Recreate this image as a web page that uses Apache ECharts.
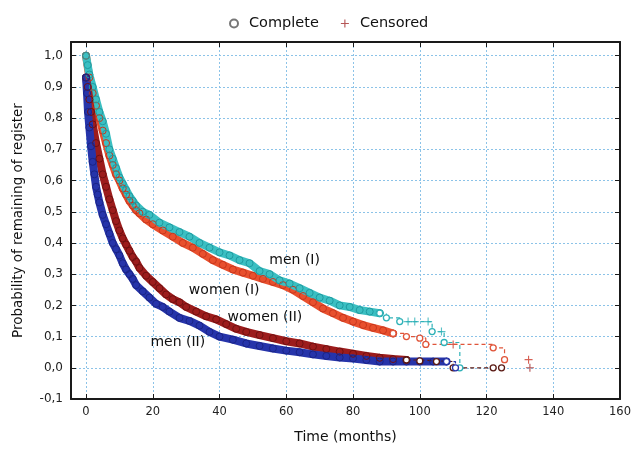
<!DOCTYPE html>
<html>
<head>
<meta charset="utf-8">
<script src="https://cdn.jsdelivr.net/npm/echarts@6/dist/echarts.min.js"></script>
<style>
  html, body { margin: 0; padding: 0; background: #fff; }
  #chart { width: 634px; height: 452px; }
</style>
</head>
<body>
<div id="chart"></div>
<script>
  // tick labels
  var xTicks = [0, 20, 40, 60, 80, 100, 120, 140, 160];
  var yTicks = [-0.1, 0, 0.1, 0.2, 0.3, 0.4, 0.5, 0.6, 0.7, 0.8, 0.9, 1.0];

  // men (I) - dense part, tail, censored
  var menI = [[0, 1.0], [0.5, 0.97], [1, 0.94], [2, 0.90], [3, 0.86], [4, 0.82], [5, 0.79], [6, 0.75], [7, 0.70],
    [8, 0.67], [9, 0.64], [10, 0.61], [11, 0.59], [12, 0.57], [13, 0.55], [14, 0.535], [15, 0.52], [17, 0.50],
    [19, 0.49], [22, 0.465], [25, 0.45], [28, 0.435], [31, 0.42], [34, 0.40], [37, 0.385], [40, 0.37], [43, 0.36],
    [46, 0.345], [49, 0.335], [52, 0.31], [55, 0.30], [58, 0.28], [61, 0.27], [64, 0.255], [67, 0.24], [70, 0.225],
    [73, 0.215], [76, 0.20], [79, 0.195], [82, 0.185], [85, 0.18], [88, 0.175]];
  var menITail = [[88, 0.175], [90, 0.16], [94, 0.148], [103.7, 0.116], [107.3, 0.081], [112, 0.0]];
  var menICens = [[96.5, 0.148], [98.5, 0.148], [102.5, 0.148], [106.5, 0.116]];

  // women (I)
  var womenI = [[0, 1.0], [1, 0.93], [2, 0.88], [3, 0.84], [4, 0.80], [5, 0.76], [6, 0.72], [7, 0.68], [8, 0.65],
    [9, 0.62], [10, 0.60], [11, 0.575], [12, 0.555], [13, 0.535], [14, 0.52], [15, 0.505], [16, 0.495], [18, 0.475],
    [20, 0.46], [23, 0.44], [26, 0.42], [29, 0.40], [32, 0.385], [35, 0.365], [38, 0.345], [41, 0.33], [44, 0.315],
    [47, 0.305], [50, 0.295], [53, 0.285], [56, 0.275], [59, 0.265], [62, 0.25], [65, 0.23], [68, 0.21], [71, 0.19],
    [74, 0.175], [77, 0.16], [80, 0.148], [83, 0.137], [86, 0.128], [89, 0.12], [92, 0.11]];
  var womenITail = [[92, 0.11], [96, 0.10], [100, 0.095], [101.8, 0.075], [122, 0.064], [125.4, 0.026]];
  var womenICens = [[110, 0.075], [132.6, 0.026]];

  // women (II)
  var womenII = [[0, 0.93], [0.5, 0.90], [1, 0.86], [1.5, 0.82], [2, 0.78], [3, 0.72], [4, 0.67], [5, 0.62], [6, 0.58],
    [7, 0.54], [8, 0.505], [9, 0.47], [10, 0.44], [11, 0.415], [12, 0.395], [13, 0.375], [14, 0.355], [15, 0.34],
    [16, 0.32], [18, 0.295], [20, 0.275], [22, 0.255], [24, 0.235], [26, 0.22], [28, 0.21], [30, 0.195], [33, 0.18],
    [36, 0.165], [39, 0.155], [42, 0.14], [45, 0.125], [48, 0.115], [52, 0.105], [56, 0.095], [60, 0.085], [64, 0.078],
    [68, 0.068], [72, 0.06], [76, 0.052], [80, 0.045], [84, 0.038], [88, 0.032], [92, 0.028], [96, 0.025]];
  var womenIITail = [[96, 0.025], [100, 0.022], [105, 0.02], [110, 0.0], [122, 0.0], [124.5, 0.0]];
  var womenIICens = [[133, 0.0]];

  // men (II)
  var menII = [[0, 0.93], [0.3, 0.88], [0.6, 0.82], [1, 0.77], [1.5, 0.71], [2, 0.66], [2.5, 0.62], [3, 0.58],
    [3.5, 0.555], [4, 0.53], [5, 0.49], [6, 0.46], [7, 0.43], [8, 0.40], [9, 0.38], [10, 0.36], [11, 0.335],
    [12, 0.315], [13, 0.30], [14, 0.285], [15, 0.265], [17, 0.245], [19, 0.225], [21, 0.205], [23, 0.195],
    [25, 0.18], [28, 0.16], [31, 0.15], [34, 0.135], [37, 0.115], [40, 0.10], [44, 0.09], [48, 0.078], [52, 0.07],
    [56, 0.062], [60, 0.055], [64, 0.05], [68, 0.043], [72, 0.038], [76, 0.033], [80, 0.03], [84, 0.025],
    [88, 0.02], [92, 0.02], [96, 0.02], [100, 0.02], [104, 0.02], [108, 0.02]];
  var menIITail = [[108, 0.02], [110.7, 0.0]];

  // curve labels (data coords)
  var curveNames = ['men (I)', 'women (I)', 'women (II)', 'men (II)'];
  var curveLabelAt = [[62.5, 0.343], [41.4, 0.247], [53.6, 0.163], [27.5, 0.083]];

  var plusIcon = 'path://M4.3,0H5.7V4.3H10V5.7H5.7V10H4.3V5.7H0V4.3H4.3Z';
  var font = 'DejaVu Sans';

  var chart = echarts.init(document.getElementById('chart'));

  // dense event region drawn as a thick band of markers
  function band(data, color, edge) {
    return {
      type: 'line', data: data, silent: true,
      lineStyle: { color: color, width: 8, cap: 'round', join: 'round' },
      symbol: 'circle', symbolSize: 7,
      itemStyle: { color: 'rgba(255,255,255,0)', borderColor: edge, borderWidth: 1 }
    };
  }
  function tail(data, color) {
    return {
      type: 'line', data: data, step: 'end', silent: true,
      lineStyle: { color: color, width: 1.2, type: [4, 3] },
      symbol: 'circle', symbolSize: 6,
      itemStyle: { color: '#fff', borderColor: color, borderWidth: 1.3 }
    };
  }
  function cens(data, color) {
    return {
      type: 'scatter', data: data, silent: true,
      symbol: plusIcon, symbolSize: 8,
      itemStyle: { color: color }
    };
  }

  var frame = { show: true, onZero: false, lineStyle: { color: '#1a1a1a', width: 2 } };
  var grid = { show: true, lineStyle: { color: '#8cc3e8', type: [2, 2], width: 1 } };

  var option = {
    animation: false,
    backgroundColor: '#fff',
    textStyle: { fontFamily: font },
    legend: {
      top: 11, left: 224,
      itemWidth: 8, itemHeight: 8, itemGap: 22,
      textStyle: { fontSize: 14.5, color: '#111', padding: [0, 0, 0, 6] },
      data: [
        { name: 'Complete', icon: 'emptyCircle' },
        { name: 'Censored', icon: plusIcon }
      ]
    },
    grid: { left: 71, right: 7, top: 42, bottom: 53 },
    xAxis: [{
      type: 'value', min: -4.5, max: 160, position: 'bottom',
      axisLine: frame,
      axisTick: { show: true, inside: true, length: 5, customValues: xTicks, lineStyle: { color: '#1a1a1a' } },
      axisLabel: { customValues: xTicks, fontSize: 11.5, color: '#222', margin: 7 },
      splitLine: grid,
      name: 'Time (months)', nameLocation: 'middle', nameGap: 31,
      nameTextStyle: { fontSize: 14, color: '#111' }
    }, {
      type: 'value', min: -4.5, max: 160, position: 'top',
      axisLine: frame,
      axisTick: { show: true, inside: true, length: 5, customValues: xTicks, lineStyle: { color: '#1a1a1a' } },
      axisLabel: { show: false },
      splitLine: { show: false }
    }],
    yAxis: [{
      type: 'value', min: -0.1, max: 1.044, position: 'left',
      axisLine: frame,
      axisTick: { show: true, inside: true, length: 5, customValues: yTicks, lineStyle: { color: '#1a1a1a' } },
      axisLabel: {
        customValues: yTicks, fontSize: 12, color: '#222', margin: 8,
        formatter: function (v) { return v.toFixed(1).replace('.', ','); }
      },
      splitLine: grid,
      name: 'Probability of remaining of register', nameLocation: 'middle', nameGap: 46,
      nameTextStyle: { fontSize: 13.5, color: '#111' }
    }, {
      type: 'value', min: -0.1, max: 1.044, position: 'right',
      axisLine: frame,
      axisTick: { show: true, inside: true, length: 5, customValues: yTicks, lineStyle: { color: '#1a1a1a' } },
      axisLabel: { show: false },
      splitLine: { show: false }
    }],
    series: [
      { name: 'Complete', type: 'scatter', data: [], itemStyle: { color: '#555' } },
      { name: 'Censored', type: 'scatter', data: [], itemStyle: { color: '#a32b2b' } },
      // women (I) under men (I)
      band(womenI, '#e8502e', '#c8361c'),
      band(menI, '#3bbfc2', '#1f9aa0'),
      tail(womenITail, '#e0553a'),
      tail(menITail, '#2fb2b8'),
      cens(womenICens, '#cc3a2a'),
      cens(menICens, '#2fb2b8'),
      // women (II) under men (II)
      band(womenII, '#9c1c1c', '#701010'),
      band(menII, '#2634aa', '#1a2486'),
      tail(womenIITail, '#5a1a14'),
      tail(menIITail, '#2634aa'),
      cens(womenIICens, '#a32b2b')
    ]
  };
  chart.setOption(option);

  // curve name labels placed by data coordinates
  chart.setOption({
    graphic: curveNames.map(function (n, i) {
      var p = chart.convertToPixel({ xAxisIndex: 0, yAxisIndex: 0 }, curveLabelAt[i]);
      return {
        type: 'text', x: p[0], y: p[1], silent: true, z: 100,
        style: { text: n, fontSize: 14, fontFamily: font, fill: '#111', align: 'center', verticalAlign: 'middle' }
      };
    })
  });
</script>
</body>
</html>
